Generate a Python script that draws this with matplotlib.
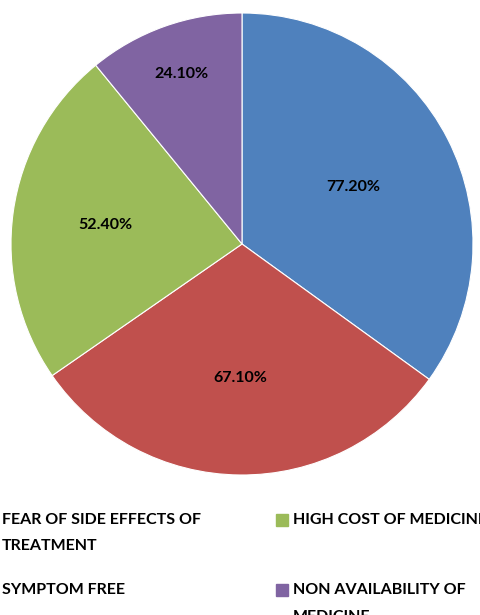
import numpy as np
import matplotlib.pyplot as plt
from matplotlib.patches import Rectangle

plt.rcParams['font.family'] = ['Lato', 'DejaVu Sans']

# data
categorias = ['FEAR OF SIDE EFFECTS OF\nTREATMENT', 'SYMPTOM FREE',
              'HIGH COST OF MEDICINE', 'NON AVAILABILITY OF\nMEDICINE']
valores = [77.2, 67.1, 52.4, 24.1]
rotulos = ['77.20%', '67.10%', '52.40%', '24.10%']
cores = ['#4F81BD', '#C0504D', '#9BBB59', '#8064A2']
dist_rotulo = [0.543, 0.58, 0.595, 0.78]  # where excel put each label

W, H = 481, 615
fig = plt.figure(figsize=(W / 100, H / 100), dpi=100)
ax = fig.add_axes([11 / W, (H - 475) / H, 462 / W, 462 / H])

fatias, _ = ax.pie(valores, colors=cores, startangle=90, counterclock=False,
                   radius=1, wedgeprops=dict(edgecolor='white', linewidth=0.8))
for f, txt, d in zip(fatias, rotulos, dist_rotulo):
    ang = np.deg2rad((f.theta1 + f.theta2) / 2)
    ax.text(d * np.cos(ang), d * np.sin(ang), txt, ha='center', va='center',
            fontsize=11.5, fontweight='bold', color='black')
ax.set_xlim(-1, 1)
ax.set_ylim(-1, 1)
ax.set_aspect('equal')
ax.axis('off')

# legend drawn by hand (2 columns, rows aligned like the excel one)
col_x = [2, 293]
linha_y = [519.5, 590]
passo = 27
for i, (lab, cor) in enumerate(zip(categorias, cores)):
    c, r = i // 2, i % 2
    x0, y0 = col_x[c], linha_y[r]
    fig.patches.append(Rectangle(((x0 - 17) / W, (H - y0 - 6) / H), 12 / W, 12 / H,
                                 transform=fig.transFigure, color=cor, clip_on=False))
    for k, linha in enumerate(lab.split('\n')):
        fig.text(x0 / W, (H - y0 - k * passo) / H, linha, ha='left', va='center',
                 fontsize=11.5, fontweight='bold', color='black')

fig.savefig('out.png', dpi=100)
